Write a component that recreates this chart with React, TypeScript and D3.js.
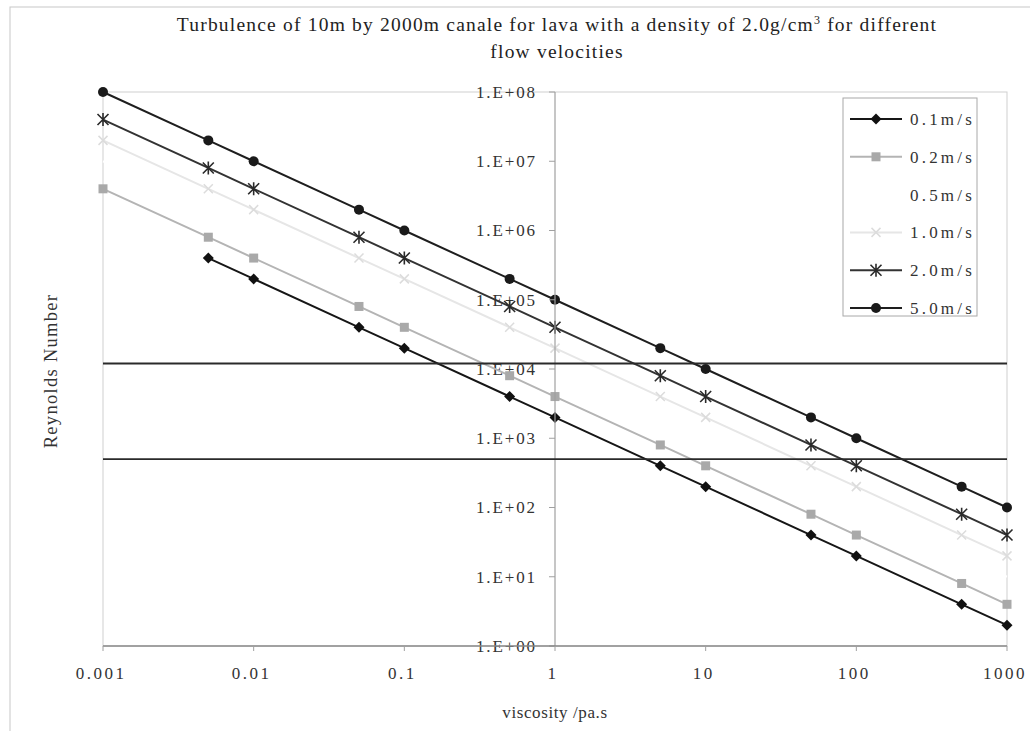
import React from "react";
import * as d3 from "d3";

const viscosity = [0.001, 0.005, 0.01, 0.05, 0.1, 0.5, 1, 5, 10, 50, 100, 500, 1000];
const v01 = [null, 400000, 200000, 40000, 20000, 4000, 2000, 400, 200, 40, 20, 4, 2];
const v02 = [4000000, 800000, 400000, 80000, 40000, 8000, 4000, 800, 400, 80, 40, 8, 4];
const v05 = [10000000, 2000000, 1000000, 200000, 100000, 20000, 10000, 2000, 1000, 200, 100, 20, 10];
const v10 = [20000000, 4000000, 2000000, 400000, 200000, 40000, 20000, 4000, 2000, 400, 200, 40, 20];
const v20 = [40000000, 8000000, 4000000, 800000, 400000, 80000, 40000, 8000, 4000, 800, 400, 80, 40];
const v50 = [100000000, 20000000, 10000000, 2000000, 1000000, 200000, 100000, 20000, 10000, 2000, 1000, 200, 100];
const seriesNames = ["0.1m/s", "0.2m/s", "0.5m/s", "1.0m/s", "2.0m/s", "5.0m/s"];
const xTicks = [0.001, 0.01, 0.1, 1, 10, 100, 1000];
const xTickLabels = ["0.001", "0.01", "0.1", "1", "10", "100", "1000"];
const yTicks = [1, 10, 100, 1000, 1e4, 1e5, 1e6, 1e7, 1e8];
const yTickLabels = ["1.E+00", "1.E+01", "1.E+02", "1.E+03", "1.E+04", "1.E+05", "1.E+06", "1.E+07", "1.E+08"];
const thresholds = [12000, 500];

const seriesValues = [v01, v02, v05, v10, v20, v50];
const styles = [
  { color: "#161616", marker: "diamond", mcolor: "#111" },
  { color: "#b4b4b4", marker: "square", mcolor: "#a9a9a9" },
  { color: "#ffffff", marker: "none", mcolor: "#ffffff" },
  { color: "#e6e6e6", marker: "x", mcolor: "#dcdcdc" },
  { color: "#333333", marker: "star", mcolor: "#2a2a2a" },
  { color: "#1e1e1e", marker: "circle", mcolor: "#1a1a1a" },
];

const FONT = "'Liberation Serif', 'Times New Roman', serif";

function Marker({ type, x, y, color }: { type: string; x: number; y: number; color: string }) {
  if (type === "diamond") {
    const s = 5.5;
    return <path d={`M${x},${y - s}L${x + s},${y}L${x},${y + s}L${x - s},${y}Z`} fill={color} />;
  }
  if (type === "square") {
    const s = 4.5;
    return <rect x={x - s} y={y - s} width={2 * s} height={2 * s} fill={color} />;
  }
  if (type === "circle") {
    return <circle cx={x} cy={y} r={5} fill={color} />;
  }
  if (type === "x") {
    const s = 4.5;
    return <path d={`M${x - s},${y - s}L${x + s},${y + s}M${x - s},${y + s}L${x + s},${y - s}`} stroke={color} strokeWidth={1.5} />;
  }
  if (type === "star") {
    const s = 5.5;
    return (
      <path
        d={`M${x - s},${y - s}L${x + s},${y + s}M${x - s},${y + s}L${x + s},${y - s}M${x},${y - s - 1}L${x},${y + s + 1}`}
        stroke={color}
        strokeWidth={1.6}
      />
    );
  }
  return null;
}

export default function App() {
  const W = 1030, H = 731;
  const x = d3.scaleLog().domain([0.001, 1000]).range([103, 1007]);
  const y = d3.scaleLog().domain([1, 1e8]).range([646, 92]);
  const axisX = x(1);
  const line = d3
    .line<[number, number | null]>()
    .defined((d) => d[1] != null)
    .x((d) => x(d[0]))
    .y((d) => y(d[1] as number));

  const legendX = 843, legendY = 98, legendW = 134, legendH = 218, legendStep = 37.8, legendFirst = 119;

  return (
    <svg width={W} height={H} style={{ position: "absolute", left: 0, top: 0, background: "#fff" }} fontFamily={FONT}>
      <rect x={0} y={0} width={W} height={H} fill="#fff" />
      <rect x={10} y={7} width={W} height={H} fill="none" stroke="#c8c8c8" strokeWidth={1} />
      {/* title */}
      <text x={557} y={31} textAnchor="middle" fontSize={19.5} fill="#222" letterSpacing={1.2}>
        Turbulence of 10m by 2000m canale for lava with a density of 2.0g/cm
        <tspan fontSize={12} dy={-7}>3</tspan>
        <tspan dy={7}> for different</tspan>
      </text>
      <text x={557} y={58} textAnchor="middle" fontSize={19.5} fill="#222" letterSpacing={1.2}>
        flow velocities
      </text>
      {/* plot area border */}
      <rect x={103} y={92} width={1007 - 103} height={646 - 92} fill="none" stroke="#cfcfcf" strokeWidth={1} />
      {/* y tick labels */}
      {yTicks.map((t, i) => (
        <text key={"yl" + i} x={537} y={y(t)} dy="0.35em" textAnchor="end" fontSize={17} fill="#333" letterSpacing={1.9}>
          {yTickLabels[i]}
        </text>
      ))}
      {/* series */}
      {seriesValues.map((vals, si) => {
        const pts = viscosity.map((v, i) => [v, vals[i]] as [number, number | null]);
        return (
          <g key={"s" + si}>
            <path d={line(pts) || ""} fill="none" stroke={styles[si].color} strokeWidth={2} />
            {pts
              .filter((p) => p[1] != null)
              .map((p, i) => (
                <Marker key={i} type={styles[si].marker} x={x(p[0])} y={y(p[1] as number)} color={styles[si].mcolor} />
              ))}
          </g>
        );
      })}
      {/* y axis */}
      <line x1={axisX} x2={axisX} y1={92} y2={646} stroke="#a0a0a0" strokeWidth={1.2} />
      {yTicks.map((t, i) => (
        <line key={"yt" + i} x1={axisX - 6} x2={axisX} y1={y(t)} y2={y(t)} stroke="#a0a0a0" strokeWidth={1} />
      ))}
      {/* thresholds */}
      {thresholds.map((t, i) => (
        <line key={"th" + i} x1={103} x2={1007} y1={y(t)} y2={y(t)} stroke="#2a2a2a" strokeWidth={1.8} />
      ))}
      {/* x axis */}
      <line x1={103} x2={1007} y1={646} y2={646} stroke="#8a8a8a" strokeWidth={1.6} />
      {xTicks.map((t, i) => (
        <g key={"xt" + i}>
          <line x1={x(t)} x2={x(t)} y1={646} y2={651} stroke="#a0a0a0" strokeWidth={1} />
          <text x={x(t) - 2} y={679} textAnchor="middle" fontSize={17} fill="#333" letterSpacing={2.5}>
            {xTickLabels[i]}
          </text>
        </g>
      ))}
      {/* axis titles */}
      <text x={555} y={718} textAnchor="middle" fontSize={17} fill="#333" letterSpacing={0.6}>
        viscosity /pa.s
      </text>
      <text transform={`translate(57,371) rotate(-90)`} textAnchor="middle" fontSize={18.5} fill="#333" letterSpacing={1.3}>
        Reynolds Number
      </text>
      {/* legend */}
      <rect x={legendX} y={legendY} width={legendW} height={legendH} fill="#fff" stroke="#a8a8a8" strokeWidth={1} />
      {seriesNames.map((n, i) => {
        const ly = legendFirst + i * legendStep;
        return (
          <g key={"lg" + i}>
            <line x1={850} x2={902} y1={ly} y2={ly} stroke={styles[i].color} strokeWidth={2} />
            <Marker type={styles[i].marker} x={876} y={ly} color={styles[i].mcolor} />
            <text x={910} y={ly} dy="0.35em" fontSize={17} fill="#333" letterSpacing={3.2}>
              {n}
            </text>
          </g>
        );
      })}
    </svg>
  );
}
